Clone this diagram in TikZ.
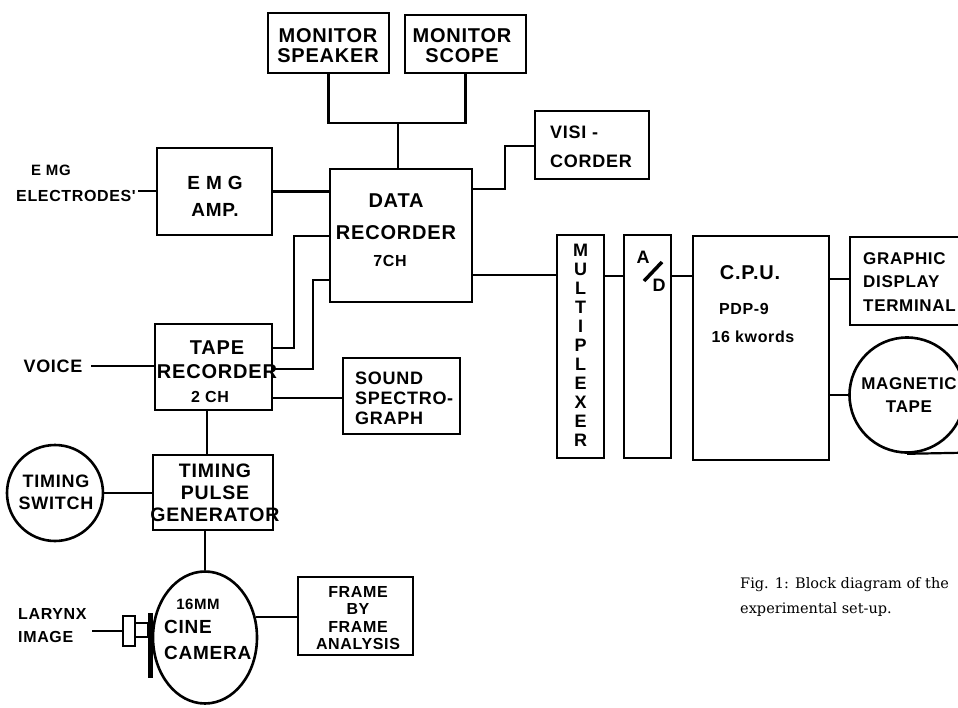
\documentclass[tikz,border=0pt]{standalone}
\usepackage{fontspec}
\newfontfamily\labfont{Liberation Sans}[LetterSpace=4]
\newfontfamily\capfont{DejaVu Serif}
\usetikzlibrary{shapes.geometric}
\newcommand\Lf[2]{\labfont\bfseries\fontsize{#1}{#2}\selectfont}
\tikzset{
  blk/.style={draw, line width=2.6pt, inner sep=0pt},
  wire/.style={line width=2.2pt},
  lab/.style={inner sep=0pt, align=center},
}
\begin{document}
\begin{tikzpicture}[x=1pt,y=-1pt]
\useasboundingbox (0,0) rectangle (958,707);
\clip (0,0) rectangle (958,707);

% ---- boxes ----
\node[blk, minimum width=121, minimum height=60] (ms) at (328.5,43) {};
\node[blk, minimum width=121, minimum height=58] (sc) at (465.5,44) {};
\node[blk, minimum width=142, minimum height=133] (dr) at (401,235.5) {};
\node[blk, minimum width=114, minimum height=68] (vc) at (592,145) {};
\node[blk, minimum width=115, minimum height=87] (emg) at (214.5,191.5) {};
\node[blk, minimum width=117, minimum height=86] (tr) at (213.5,367) {};
\node[blk, minimum width=117, minimum height=76] (ss) at (401.5,396) {};
\node[blk, minimum width=120, minimum height=75] (tp) at (213,492.5) {};
\node[blk, minimum width=115, minimum height=78] (fr) at (355.5,616) {};
\node[blk, minimum width=47, minimum height=223] (mux) at (580.5,346.5) {};
\node[blk, minimum width=47, minimum height=223] (ad) at (647.5,346.5) {};
\node[blk, minimum width=136, minimum height=224] (cpu) at (761,348) {};
\node[blk, minimum width=112, minimum height=88] (gdt) at (906,281) {};
\node[blk, circle, minimum size=115] (mt) at (907,395) {};
\node[blk, circle, minimum size=96] (sw) at (55,493) {};
\node[blk, ellipse, minimum width=104, minimum height=132] (cam) at (205,637.5) {};
\node[draw, line width=2pt, minimum width=12, minimum height=30, inner sep=0pt] (lens) at (129,631) {};
\node[draw, line width=2pt, minimum width=13, minimum height=14, inner sep=0pt] (lens2) at (141.5,630) {};
\node[fill, minimum width=5, minimum height=65, inner sep=0pt] (bar) at (150.5,645.5) {};

% ---- texts ----
\node[lab, font=\Lf{20}{20}] (tms) at (328,45.5) {MONITOR\\SPEAKER};
\node[lab, font=\Lf{20}{20}] (tsc) at (462,45.5) {MONITOR\\SCOPE};
\node[lab, font=\Lf{20}{32}] (tdr) at (396,217) {DATA\\RECORDER};
\node[lab, font=\Lf{16}{16}] (tdr2) at (390,261) {7CH};
\node[lab, align=left, anchor=west, font=\Lf{18}{29}] (tvc) at (550,146.5) {VISI -\\CORDER};
\node[lab, font=\Lf{19}{27}] (temg) at (215,196.5) {E M G\\AMP.};
\node[lab, font=\Lf{15}{15}] (tee1) at (51,170) {E MG};
\node[lab, font=\Lf{16}{16}] (tee2) at (76,196) {ELECTRODES'};
\node[lab, font=\Lf{20}{24}] (ttr) at (217,360) {TAPE\\RECORDER};
\node[lab, font=\Lf{16}{16}] (ttr2) at (210,397) {2 CH};
\node[lab, font=\Lf{18}{18}] (tvo) at (53,366) {VOICE};
\node[lab, align=left, anchor=west, font=\Lf{18}{20}] (tss) at (355,398) {SOUND\\SPECTRO-\\GRAPH};
\node[lab, font=\Lf{19.5}{22}] (ttp) at (215,493) {TIMING\\PULSE\\GENERATOR};
\node[lab, font=\Lf{18}{22}] (tsw) at (56,492) {TIMING\\SWITCH};
\node[lab, font=\Lf{15}{15}] (tcam1) at (198,604) {16MM};
\node[lab, align=left, anchor=west, font=\Lf{19}{26}] (tcam2) at (164,640) {CINE\\CAMERA};
\node[lab, font=\Lf{16}{17.5}] (tfr) at (358,618) {FRAME\\BY\\FRAME\\ANALYSIS};
\node[lab, align=left, anchor=west, font=\Lf{16}{23}] (tlx) at (18,626) {LARYNX\\IMAGE};
\node[lab, font=\Lf{18}{19}] (tmux) at (580.5,345) {M\\U\\L\\T\\I\\P\\L\\E\\X\\E\\R};
\node[lab, font=\Lf{18}{18}] (ta) at (643,257) {A};
\node[lab, font=\Lf{18}{18}] (td) at (659,285) {D};
\draw[line width=3.5pt] (644,281) -- (662,262);
\node[lab, font=\Lf{20}{20}] (tcpu1) at (750,273) {C.P.U.};
\node[lab, font=\Lf{16}{16}] (tcpu2) at (744,309) {PDP-9};
\node[lab, font=\Lf{16}{16}] (tcpu3) at (753,337) {16 kwords};
\node[lab, align=left, anchor=west, font=\Lf{17}{23.5}] (tgdt) at (863,282) {GRAPHIC\\DISPLAY\\TERMINAL};
\node[lab, font=\Lf{17}{23}] (tmt) at (909,395.5) {MAGNETIC\\TAPE};
\node[lab, align=left, anchor=west, font=\capfont\fontsize{14.5}{25}\selectfont] (cap) at (740,597) {Fig. 1: Block diagram of the\\experimental set-up.};

% ---- connectors ----
\coordinate (j1) at (398,123);
\draw[wire] (ms.south) |- (j1) -| (sc.south);
\draw[wire] (j1) -- (j1 |- dr.north);
\coordinate (ee) at (138,191);
\draw[wire] (ee) -- (ee -| emg.west);
\draw[wire] (emg.east) -- (emg.east -| dr.west);
\draw[wire] (dr.east |- 0,189) -- ++(32,0) |- (vc.west |- 0,146);
\draw[wire] (tr.east |- 0,348) -- ++(21,0) |- (dr.west |- 0,236);
\draw[wire] (tr.east |- 0,369) -- ++(40,0) |- (dr.west |- 0,280);
\coordinate (vo) at (91,366);
\draw[wire] (vo) -- (vo -| tr.west);
\draw[wire] (tr.east |- 0,398) -- (ss.west |- 0,398);
\draw[wire] (tr.south -| 207,0) -- (tp.north -| 207,0);
\draw[wire] (sw.east) -- (sw.east -| tp.west);
\draw[wire] (tp.south -| cam.north) -- (cam.north);
\draw[wire] (cam.22) -- (cam.22 -| fr.west);
\coordinate (lx) at (92,631);
\draw[wire] (lx) -- (lens.west);
\draw[wire] (dr.east |- 0,275) -- (mux.west |- 0,275);
\draw[wire] (mux.east |- 0,276) -- (ad.west |- 0,276);
\draw[wire] (ad.east |- 0,276) -- (cpu.west |- 0,276);
\draw[wire] (cpu.east |- 0,279) -- (gdt.west |- 0,279);
\draw[wire] (cpu.east |- mt.west) -- (mt.west);
\coordinate (mtend) at (975,452.5);
\draw[wire] (mt.south) -- (mtend);
\end{tikzpicture}
\end{document}
